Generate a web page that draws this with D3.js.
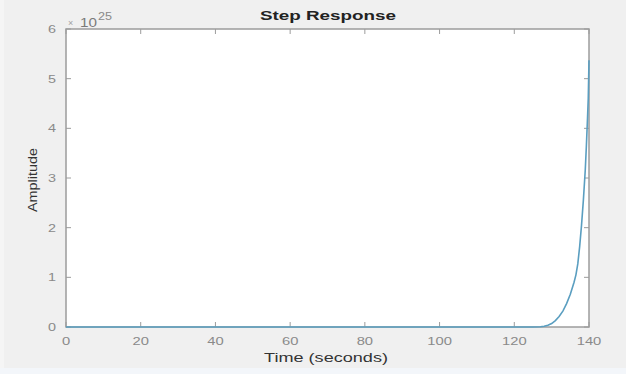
<!DOCTYPE html>
<html>
<head>
<meta charset="utf-8">
<script src="https://cdn.jsdelivr.net/npm/d3@7/dist/d3.min.js"></script>
<style>
  html, body { margin: 0; padding: 0; background: #f0f0f0; }
  svg { display: block; font-family: "Liberation Sans", Arial, sans-serif; }
</style>
</head>
<body>
<svg id="chart" width="626" height="374"></svg>
<script>
// Step response samples: time in seconds, amplitude in units of 1e25
const timeSec = [0, 20, 40, 60, 80, 100, 120, 125, 127, 128, 129, 130, 131, 132, 133, 134, 135, 136, 136.5, 137, 137.5, 138, 138.5, 139, 139.3, 139.6, 139.8, 140];
const amplitude = [0, 0, 0, 0, 0, 0, 0, 0, 0.005, 0.015, 0.035, 0.07, 0.13, 0.21, 0.32, 0.47, 0.66, 0.9, 1.05, 1.27, 1.62, 2.05, 2.56, 3.16, 3.65, 4.2, 4.6, 5.37];
const xTicks = [0, 20, 40, 60, 80, 100, 120, 140];
const yTicks = [0, 1, 2, 3, 4, 5, 6];
const titleText = "Step Response";
const xLabelText = "Time (seconds)";
const yLabelText = "Amplitude";

const svg = d3.select("#chart");
const W = 626, H = 374;
const plot = { left: 66, right: 589, top: 29, bottom: 327 };

// figure background with faint edge bands
svg.append("rect").attr("width", W).attr("height", H).attr("fill", "#f0f0f0");
svg.append("rect").attr("x", 0).attr("y", 368).attr("width", W).attr("height", 6).attr("fill", "#f3f6fa");
svg.append("rect").attr("x", 0).attr("y", 0).attr("width", 4).attr("height", 368).attr("fill", "#f5f5f5");

const x = d3.scaleLinear().domain([0, 140]).range([plot.left, plot.right]);
const y = d3.scaleLinear().domain([0, 6]).range([plot.bottom, plot.top]);

// axes area
svg.append("rect")
  .attr("x", plot.left).attr("y", plot.top)
  .attr("width", plot.right - plot.left).attr("height", plot.bottom - plot.top)
  .attr("fill", "#ffffff");

const axisColor = "#9c9c9c";
const labelColor = "#8a8a8a";

// inward ticks on all four sides
const tickLen = 5;
const tg = svg.append("g").attr("stroke", axisColor).attr("stroke-width", 1);
xTicks.forEach(t => {
  tg.append("line").attr("x1", x(t)).attr("x2", x(t)).attr("y1", plot.bottom).attr("y2", plot.bottom - tickLen);
  tg.append("line").attr("x1", x(t)).attr("x2", x(t)).attr("y1", plot.top).attr("y2", plot.top + tickLen);
});
yTicks.forEach(t => {
  tg.append("line").attr("x1", plot.left).attr("x2", plot.left + tickLen).attr("y1", y(t)).attr("y2", y(t));
  tg.append("line").attr("x1", plot.right).attr("x2", plot.right - tickLen).attr("y1", y(t)).attr("y2", y(t));
});

// box
svg.append("rect")
  .attr("x", plot.left).attr("y", plot.top)
  .attr("width", plot.right - plot.left).attr("height", plot.bottom - plot.top)
  .attr("fill", "none").attr("stroke", axisColor).attr("stroke-width", 1.5);

// tick labels
svg.append("g").selectAll("text").data(xTicks).join("text")
  .attr("x", d => x(d)).attr("y", 345)
  .attr("text-anchor", "middle")
  .attr("font-size", 11.5).attr("fill", labelColor)
  .attr("textLength", d => String(d).length * 8.2)
  .attr("lengthAdjust", "spacingAndGlyphs")
  .text(d => d);

svg.append("g").selectAll("text").data(yTicks).join("text")
  .attr("x", 56).attr("y", d => y(d) + 4)
  .attr("text-anchor", "end")
  .attr("font-size", 11.5).attr("fill", labelColor)
  .attr("textLength", 8)
  .attr("lengthAdjust", "spacingAndGlyphs")
  .text(d => d);

// exponent label
svg.append("text").attr("x", 68).attr("y", 26).attr("fill", "#a0a0a0").attr("font-size", 9).text("\u00d7");
svg.append("text").attr("x", 80).attr("y", 27).attr("fill", "#7a7a7a").attr("font-size", 13)
  .attr("textLength", 17).attr("lengthAdjust", "spacingAndGlyphs").text("10");
svg.append("text").attr("x", 98).attr("y", 20).attr("fill", "#8a8a8a").attr("font-size", 10.5)
  .attr("textLength", 14).attr("lengthAdjust", "spacingAndGlyphs").text("25");

// response curve
const line = d3.line().x((d, i) => x(timeSec[i])).y(d => y(d));
svg.append("path")
  .datum(amplitude)
  .attr("d", line)
  .attr("fill", "none")
  .attr("stroke", "#5a9ec0")
  .attr("stroke-width", 1.6);

// title and axis labels
svg.append("text")
  .attr("x", 328).attr("y", 20)
  .attr("text-anchor", "middle")
  .attr("font-size", 13.5).attr("font-weight", "bold").attr("fill", "#222")
  .attr("textLength", 136).attr("lengthAdjust", "spacingAndGlyphs")
  .text(titleText);

svg.append("text")
  .attr("x", 326).attr("y", 362)
  .attr("text-anchor", "middle")
  .attr("font-size", 13.5).attr("fill", "#333")
  .attr("textLength", 124).attr("lengthAdjust", "spacingAndGlyphs")
  .text(xLabelText);

svg.append("text")
  .attr("transform", "translate(37,180) rotate(-90)")
  .attr("text-anchor", "middle")
  .attr("font-size", 13).attr("fill", "#333")
  .attr("textLength", 64).attr("lengthAdjust", "spacingAndGlyphs")
  .text(yLabelText);
</script>
</body>
</html>
